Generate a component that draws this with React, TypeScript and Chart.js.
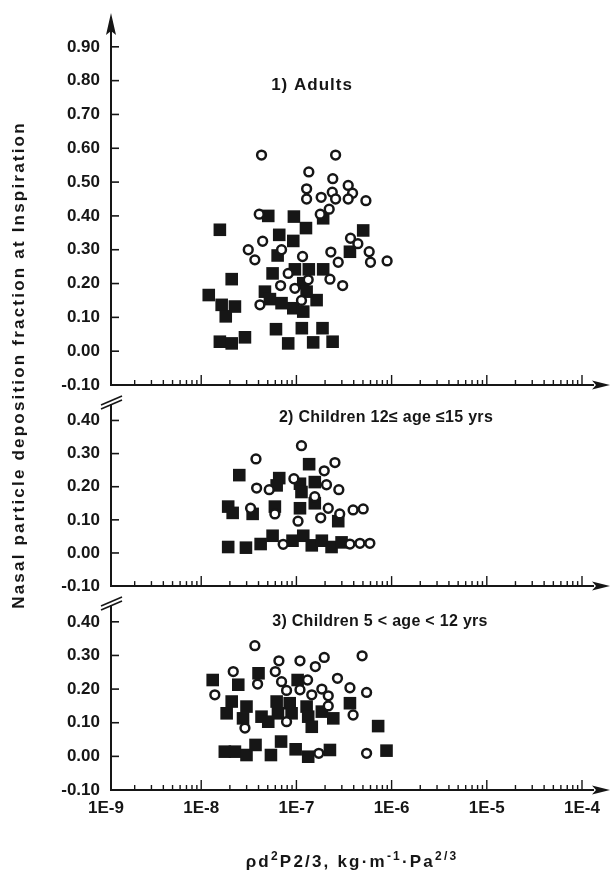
import React, { useEffect, useRef } from 'react';
import { Chart, registerables } from 'chart.js';

Chart.register(...registerables);

// ---------------- data ----------------
const xTickValues = [1e-9, 1e-8, 1e-7, 1e-6, 1e-5, 1e-4];
const yTicksAdults = [-0.1, 0, 0.1, 0.2, 0.3, 0.4, 0.5, 0.6, 0.7, 0.8, 0.9];
const yTicksChildren = [-0.1, 0, 0.1, 0.2, 0.3, 0.4];
const panelTitles = ['1) Adults', '2) Children 12\u2264 age \u226415 yrs', '3) Children 5 < age < 12 yrs'];
const yAxisTitle = 'Nasal particle deposition fraction at Inspiration';

// 1) Adults
const adultsOpenX = [4.3e-8, 2.58e-7, 1.35e-7, 2.41e-7, 1.28e-7, 1.28e-7, 1.82e-7, 2.38e-7, 2.58e-7, 3.5e-7, 3.89e-7, 3.5e-7, 5.37e-7, 2.21e-7, 1.78e-7, 4.07e-8, 4.42e-8, 3.12e-8, 3.66e-8, 6.98e-8, 1.16e-7, 2.3e-7, 2.75e-7, 3.7e-7, 4.42e-7, 5.81e-7, 6.0e-7, 8.97e-7, 8.2e-8, 1.33e-7, 2.25e-7, 3.06e-7, 6.82e-8, 9.64e-8, 4.14e-8, 1.13e-7];
const adultsOpenY = [0.58, 0.58, 0.53, 0.51, 0.48, 0.45, 0.455, 0.47, 0.45, 0.49, 0.467, 0.45, 0.445, 0.42, 0.405, 0.405, 0.325, 0.3, 0.27, 0.3, 0.28, 0.293, 0.263, 0.334, 0.318, 0.294, 0.263, 0.267, 0.23, 0.211, 0.213, 0.194, 0.194, 0.186, 0.137, 0.15];
const adultsFilledX = [1.57e-8, 5.06e-8, 9.41e-8, 1.26e-7, 1.91e-7, 6.6e-8, 9.27e-8, 5.03e-7, 3.65e-7, 6.35e-8, 9.64e-8, 1.35e-7, 1.91e-7, 5.62e-8, 2.09e-8, 1.18e-7, 1.2e-8, 4.67e-8, 1.64e-8, 2.26e-8, 5.27e-8, 6.98e-8, 9.27e-8, 1.18e-7, 1.63e-7, 1.81e-8, 1.57e-8, 2.09e-8, 2.88e-8, 6.1e-8, 8.2e-8, 1.14e-7, 1.5e-7, 1.88e-7, 2.4e-7, 1.28e-7];
const adultsFilledY = [0.359, 0.4, 0.398, 0.364, 0.393, 0.344, 0.326, 0.357, 0.294, 0.283, 0.242, 0.242, 0.242, 0.23, 0.213, 0.201, 0.166, 0.176, 0.137, 0.132, 0.154, 0.142, 0.127, 0.117, 0.151, 0.103, 0.028, 0.023, 0.041, 0.065, 0.023, 0.068, 0.026, 0.068, 0.028, 0.176];

// 2) Children 12 <= age <= 15
const teenOpenX = [1.13e-7, 3.76e-8, 2.54e-7, 1.96e-7, 9.41e-8, 3.82e-8, 5.18e-8, 2.07e-7, 2.79e-7, 1.56e-7, 3.3e-8, 5.94e-8, 2.16e-7, 2.85e-7, 3.94e-7, 5.03e-7, 1.8e-7, 1.04e-7, 7.26e-8, 3.65e-7, 4.65e-7, 5.91e-7];
const teenOpenY = [0.324, 0.284, 0.273, 0.248, 0.224, 0.196, 0.191, 0.206, 0.191, 0.17, 0.135, 0.118, 0.135, 0.118, 0.13, 0.133, 0.106, 0.096, 0.026, 0.027, 0.029, 0.029];
const teenFilledX = [2.51e-8, 1.36e-7, 6.6e-8, 1.09e-7, 1.56e-7, 1.13e-7, 6.2e-8, 1.92e-8, 2.14e-8, 3.47e-8, 5.94e-8, 1.09e-7, 1.56e-7, 2.75e-7, 1.92e-8, 2.95e-8, 4.21e-8, 5.62e-8, 9.1e-8, 1.18e-7, 1.45e-7, 1.85e-7, 2.34e-7, 2.98e-7];
const teenFilledY = [0.235, 0.268, 0.226, 0.209, 0.214, 0.184, 0.204, 0.14, 0.121, 0.118, 0.14, 0.135, 0.15, 0.096, 0.018, 0.016, 0.027, 0.052, 0.037, 0.052, 0.023, 0.037, 0.018, 0.032];

// 3) Children 5 < age < 12
const childOpenX = [3.66e-8, 6.55e-8, 1.09e-7, 1.58e-7, 1.96e-7, 4.9e-7, 2.17e-8, 3.91e-8, 6.0e-8, 6.98e-8, 7.88e-8, 1.09e-7, 1.31e-7, 1.45e-7, 1.85e-7, 2.16e-7, 2.16e-7, 2.7e-7, 3.65e-7, 5.46e-7, 1.39e-8, 2.88e-8, 7.88e-8, 3.94e-7, 1.72e-7, 5.46e-7];
const childOpenY = [0.329, 0.284, 0.284, 0.267, 0.294, 0.299, 0.252, 0.215, 0.252, 0.222, 0.196, 0.198, 0.227, 0.183, 0.2, 0.18, 0.15, 0.232, 0.204, 0.19, 0.183, 0.084, 0.103, 0.123, 0.009, 0.009];
const childFilledX = [1.32e-8, 2.45e-8, 4.0e-8, 1.03e-7, 2.09e-8, 1.85e-8, 2.99e-8, 2.75e-8, 4.3e-8, 5.06e-8, 6.2e-8, 6.4e-8, 8.5e-8, 8.9e-8, 1.28e-7, 1.33e-7, 1.45e-7, 1.85e-7, 2.44e-7, 3.65e-7, 7.22e-7, 8.84e-7, 1.77e-8, 2.26e-8, 2.99e-8, 3.72e-8, 5.4e-8, 6.9e-8, 9.82e-8, 1.33e-7, 2.25e-7];
const childFilledY = [0.227, 0.213, 0.247, 0.227, 0.163, 0.128, 0.148, 0.113, 0.118, 0.103, 0.163, 0.128, 0.158, 0.128, 0.148, 0.118, 0.088, 0.133, 0.113, 0.158, 0.09, 0.017, 0.014, 0.014, 0.004, 0.034, 0.004, 0.044, 0.021, -0.001, 0.019];

// ---------------- layout / style ----------------
const INK = '#161616';
const FONT = '"Liberation Sans", Arial, Helvetica, sans-serif';
const X_MIN = 1.128e-9;
const X_MAX = 1.403e-4;

type Spec = {
  top: number; height: number; padTop: number; padBottom: number;
  yMin: number; yMax: number; yTicks: number[];
  title: string; titleX: number; titleY: number; titleSize: number; titleSpacing: number;
  openX: number[]; openY: number[]; filledX: number[]; filledY: number[];
  showX: boolean; arrowTop: boolean;
};

const specs: Spec[] = [
  { top: 0, height: 395, padTop: 13, padBottom: 10, yMin: -0.1, yMax: 1.0, yTicks: yTicksAdults,
    title: panelTitles[0], titleX: 312, titleY: 85, titleSize: 17, titleSpacing: 1,
    openX: adultsOpenX, openY: adultsOpenY, filledX: adultsFilledX, filledY: adultsFilledY,
    showX: false, arrowTop: true },
  { top: 395, height: 200, padTop: 8, padBottom: 5, yMin: -0.1, yMax: 0.45, yTicks: yTicksChildren,
    title: panelTitles[1], titleX: 386, titleY: 23, titleSize: 16, titleSpacing: 0.3,
    openX: teenOpenX, openY: teenOpenY, filledX: teenFilledX, filledY: teenFilledY,
    showX: false, arrowTop: false },
  { top: 595, height: 283, padTop: 10, padBottom: 48, yMin: -0.1, yMax: 0.45, yTicks: yTicksChildren,
    title: panelTitles[2], titleX: 380, titleY: 27, titleSize: 16, titleSpacing: 0.3,
    openX: childOpenX, openY: childOpenY, filledX: childFilledX, filledY: childFilledY,
    showX: true, arrowTop: false },
];

const toPoints = (xs: number[], ys: number[]) => xs.map((x, i) => ({ x, y: ys[i] }));

function makeDecor(spec: Spec) {
  return {
    id: 'decor',
    afterDraw(chart: any) {
      const { ctx, chartArea } = chart;
      const { left, right, top, bottom } = chartArea;
      const xs = chart.scales.x;
      const ys = chart.scales.y;
      ctx.save();
      ctx.strokeStyle = INK;
      ctx.fillStyle = INK;
      ctx.lineCap = 'butt';

      const line = (x1: number, y1: number, x2: number, y2: number, w: number) => {
        ctx.lineWidth = w;
        ctx.beginPath();
        ctx.moveTo(x1, y1);
        ctx.lineTo(x2, y2);
        ctx.stroke();
      };

      // y axis line
      if (spec.arrowTop) {
        line(left, top + 16, left, bottom + 1, 2);
        ctx.beginPath();
        ctx.moveTo(left, top);
        ctx.lineTo(left + 5, top + 22);
        ctx.lineTo(left, top + 18);
        ctx.lineTo(left - 5, top + 22);
        ctx.closePath();
        ctx.fill();
      } else {
        line(left, top, left, bottom + 1, 2);
        // axis break marks
        line(left - 10, top + 1, left + 11, top - 8, 1.6);
        line(left - 10, top + 5, left + 11, top - 4, 1.6);
      }

      // x axis line + arrow
      line(left - 1, bottom, right - 2, bottom, 2);
      ctx.beginPath();
      ctx.moveTo(right + 14, bottom);
      ctx.lineTo(right - 4, bottom - 4.5);
      ctx.lineTo(right, bottom);
      ctx.lineTo(right - 4, bottom + 4.5);
      ctx.closePath();
      ctx.fill();

      // x ticks (inside, pointing up)
      for (let e = -9; e <= -4; e++) {
        for (let m = 1; m <= 9; m++) {
          const v = m * Math.pow(10, e);
          if (v < X_MIN || v > X_MAX) continue;
          const px = xs.getPixelForValue(v);
          line(px, bottom, px, bottom - (m === 1 ? 10 : 5), 1.4);
        }
      }

      // y ticks (inside, pointing right)
      for (const t of ys.ticks) {
        const py = ys.getPixelForValue(t.value);
        line(left, py, left + 8, py, 1.6);
      }

      // panel title
      ctx.font = `bold ${spec.titleSize}px ${FONT}`;
      (ctx as any).letterSpacing = `${spec.titleSpacing}px`;
      ctx.textAlign = 'center';
      ctx.textBaseline = 'middle';
      ctx.fillText(spec.title, spec.titleX, spec.titleY);
      ctx.restore();
    },
  };
}

function Panel({ spec }: { spec: Spec }) {
  const ref = useRef<HTMLCanvasElement>(null);
  useEffect(() => {
    const canvas = ref.current;
    if (!canvas) return;
    const tickFont = { family: FONT, size: 17, weight: 'bold' as const };
    const chart = new Chart(canvas, {
      type: 'scatter',
      data: {
        datasets: [
          {
            label: 'open',
            data: toPoints(spec.openX, spec.openY),
            pointStyle: 'circle',
            pointRadius: 4.4,
            pointBackgroundColor: '#ffffff',
            pointBorderColor: INK,
            pointBorderWidth: 2.5,
            order: 0,
          },
          {
            label: 'filled',
            data: toPoints(spec.filledX, spec.filledY),
            pointStyle: 'rect',
            pointRadius: 8.9,
            pointBackgroundColor: INK,
            pointBorderColor: INK,
            pointBorderWidth: 0,
            order: 1,
          },
        ],
      },
      options: {
        responsive: false,
        maintainAspectRatio: false,
        animation: false,
        events: [],
        layout: { padding: { left: 0, right: 16, top: spec.padTop, bottom: spec.padBottom } },
        plugins: { legend: { display: false }, tooltip: { enabled: false }, title: { display: false } },
        scales: {
          x: {
            type: 'logarithmic',
            min: X_MIN,
            max: X_MAX,
            grid: { display: false, drawTicks: false },
            border: { display: false },
            afterBuildTicks: (s: any) => { s.ticks = xTickValues.map((v) => ({ value: v })); },
            afterFit: (s: any) => {
              s.height = spec.showX ? 40 : 0;
              s.paddingLeft = 0; s.paddingRight = 0; s.paddingTop = 0; s.paddingBottom = 0;
            },
            ticks: {
              display: spec.showX,
              autoSkip: false,
              maxRotation: 0,
              minRotation: 0,
              padding: 8,
              color: INK,
              font: tickFont,
              callback: (v: any) => '1E' + Math.round(Math.log10(Number(v))),
            },
          },
          y: {
            type: 'linear',
            min: spec.yMin,
            max: spec.yMax,
            grid: { display: false, drawTicks: false },
            border: { display: false },
            afterBuildTicks: (s: any) => { s.ticks = spec.yTicks.map((v) => ({ value: v })); },
            afterFit: (s: any) => {
              s.width = 111;
              s.paddingLeft = 0; s.paddingRight = 0; s.paddingTop = 0; s.paddingBottom = 0;
            },
            ticks: {
              autoSkip: false,
              padding: 11,
              color: INK,
              font: tickFont,
              callback: (v: any) => Number(v).toFixed(2),
            },
          },
        },
      },
      plugins: [makeDecor(spec)],
    });
    return () => chart.destroy();
  }, [spec]);
  return (
    <canvas
      ref={ref}
      width={612}
      height={spec.height}
      style={{ position: 'absolute', left: 0, top: spec.top, width: 612, height: spec.height, display: 'block' }}
    />
  );
}

export default function App() {
  const sup = { fontSize: '12px' };
  return (
    <div style={{ position: 'fixed', left: 0, top: 0, width: 612, height: 878, background: '#ffffff', overflow: 'hidden' }}>
      {specs.map((s, i) => <Panel key={i} spec={s} />)}
      <div
        style={{
          position: 'absolute', left: 20 - 260, top: 365 - 11, width: 520, height: 22, lineHeight: '22px',
          transform: 'rotate(-90deg)', transformOrigin: '50% 50%', textAlign: 'center', whiteSpace: 'nowrap',
          font: `bold 17px ${FONT}`, letterSpacing: '2.2px', color: INK,
        }}
      >
        {yAxisTitle}
      </div>
      <div
        style={{
          position: 'absolute', left: 152, top: 849, width: 400, textAlign: 'center', whiteSpace: 'nowrap',
          font: `bold 17px ${FONT}`, letterSpacing: '2.2px', color: INK,
        }}
      >
        ρd<sup style={sup}>2</sup>P2/3, kg·m<sup style={sup}>-1</sup>·Pa<sup style={sup}>2/3</sup>
      </div>
    </div>
  );
}
